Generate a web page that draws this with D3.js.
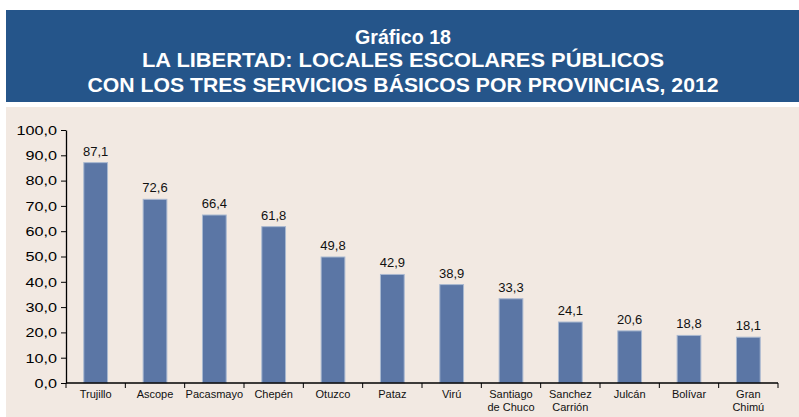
<!DOCTYPE html>
<html>
  <head>
    <meta charset="utf-8">
    <style>
    body {
      font-family: "Liberation Sans", Arial, sans-serif;
      margin: 0;
      background: #fff;
    }
    </style>
  </head>
  <body>
    <script src="https://d3js.org/d3.v7.min.js"></script>
    <script>
    var width = 799, height = 417;

    // data
    var provincias = ["Trujillo", "Ascope", "Pacasmayo", "Chepén", "Otuzco", "Pataz",
      "Virú", "Santiago|de Chuco", "Sanchez|Carrión", "Julcán", "Bolívar", "Gran|Chimú"];
    var valores = [87.1, 72.6, 66.4, 61.8, 49.8, 42.9, 38.9, 33.3, 24.1, 20.6, 18.8, 18.1];
    var yTicks = [0, 10, 20, 30, 40, 50, 60, 70, 80, 90, 100];
    var titulo = ["Gráfico 18",
      "LA LIBERTAD: LOCALES ESCOLARES PÚBLICOS",
      "CON LOS TRES SERVICIOS BÁSICOS POR PROVINCIAS, 2012"];

    var fmt = function(v) { return d3.format(".1f")(v).replace(".", ","); };

    var svg = d3.select("body").append("svg")
        .attr("width", width)
        .attr("height", height);

    // header
    svg.append("rect")
        .attr("x", 6).attr("y", 10)
        .attr("width", width - 6).attr("height", 92)
        .attr("fill", "#25558a");

    svg.selectAll(".titulo")
        .data(titulo)
      .enter().append("text")
        .attr("class", "titulo")
        .attr("x", 403)
        .attr("y", function(d, i) { return [43.5, 66.5, 91.5][i]; })
        .attr("text-anchor", "middle")
        .attr("fill", "#fff")
        .attr("font-weight", "bold")
        .attr("font-size", 20)
        .attr("textLength", function(d, i) { return [96, 522, 631][i]; })
        .attr("lengthAdjust", "spacingAndGlyphs")
        .text(function(d) { return d; });

    // panel
    svg.append("rect")
        .attr("x", 6).attr("y", 107)
        .attr("width", width - 6).attr("height", height - 107)
        .attr("fill", "#f2e9e2");

    var margin = {left: 66, right: 21, top: 130, bottom: 34};

    var x = d3.scaleBand()
        .domain(provincias)
        .range([margin.left, width - margin.right])
        .paddingInner(0.6)
        .paddingOuter(0.3);

    var y = d3.scaleLinear()
        .domain([0, 100])
        .range([height - margin.bottom, margin.top]);

    // y axis
    var yAxis = svg.append("g")
        .attr("transform", "translate(" + margin.left + ",0)")
        .call(d3.axisLeft(y).tickValues(yTicks).tickFormat(fmt).tickSize(5).tickSizeOuter(0));
    yAxis.select(".domain").attr("stroke-width", 1.3);
    yAxis.selectAll("text")
        .attr("font-family", "Liberation Sans, Arial, sans-serif")
        .attr("font-size", 13.5)
        .attr("fill", "#000")
        .attr("x", 0)
        .attr("transform", "translate(-9,0) scale(1.2,1)");

    // bars
    svg.selectAll(".bar")
        .data(valores)
      .enter().append("rect")
        .attr("class", "bar")
        .attr("x", function(d, i) { return x(provincias[i]); })
        .attr("y", function(d) { return y(d); })
        .attr("width", x.bandwidth())
        .attr("height", function(d) { return y(0) - y(d); })
        .attr("fill", "#5b76a5")
        .attr("stroke", "#a9b8d0")
        .attr("stroke-width", 1);

    svg.selectAll(".valor")
        .data(valores)
      .enter().append("text")
        .attr("class", "valor")
        .attr("x", function(d, i) { return x(provincias[i]) + x.bandwidth() / 2; })
        .attr("y", function(d) { return y(d) - 7; })
        .attr("text-anchor", "middle")
        .attr("font-size", 13)
        .attr("fill", "#111")
        .text(fmt);

    // x axis with ticks between categories
    var x0 = y(0);
    var step = (width - margin.right - margin.left) / provincias.length;
    svg.append("line")
        .attr("x1", margin.left).attr("x2", width - margin.right)
        .attr("y1", x0).attr("y2", x0)
        .attr("stroke", "#000").attr("stroke-width", 1.5);

    svg.selectAll(".xtick")
        .data(d3.range(provincias.length + 1))
      .enter().append("line")
        .attr("class", "xtick")
        .attr("x1", function(i) { return margin.left + i * step; })
        .attr("x2", function(i) { return margin.left + i * step; })
        .attr("y1", x0).attr("y2", x0 + 5)
        .attr("stroke", "#000");

    var lbl = svg.selectAll(".xlabel")
        .data(provincias)
      .enter().append("text")
        .attr("class", "xlabel")
        .attr("x", function(d) { return x(d) + x.bandwidth() / 2; })
        .attr("y", x0 + 15)
        .attr("text-anchor", "middle")
        .attr("font-size", 11)
        .attr("fill", "#111");

    lbl.selectAll("tspan")
        .data(function(d) { return d.split("|"); })
      .enter().append("tspan")
        .attr("x", function() { return d3.select(this.parentNode).attr("x"); })
        .attr("dy", function(d, i) { return i ? 13 : 0; })
        .text(function(d) { return d; });
    </script>
  </body>
</html>
